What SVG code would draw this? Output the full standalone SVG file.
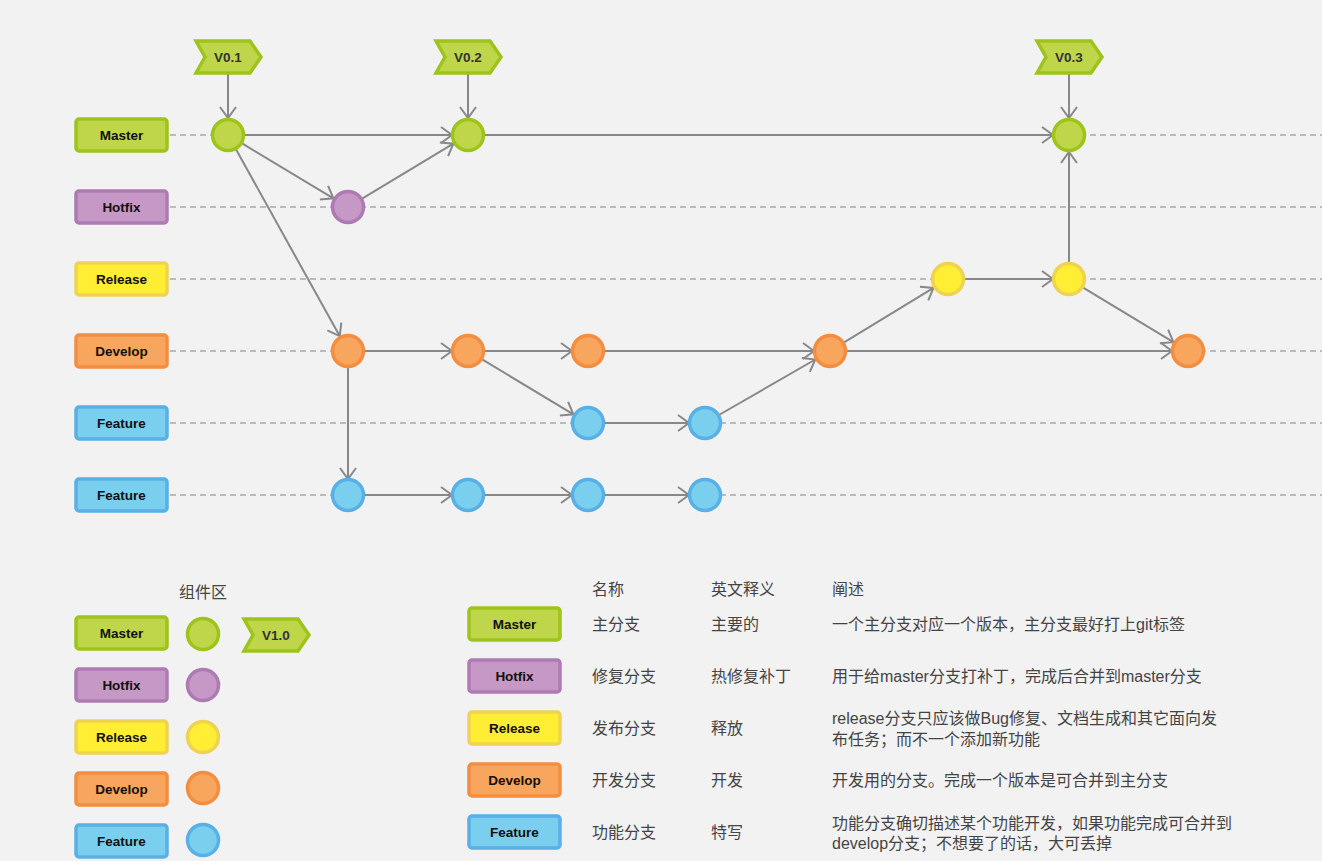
<svg xmlns="http://www.w3.org/2000/svg" width="1322" height="861" viewBox="0 0 1322 861">
<defs>
<style>
.bg{fill:#f2f2f2}
.lane{stroke:#bbbbbb;stroke-width:2;stroke-dasharray:6 4;fill:none}
.conn{stroke:#888888;stroke-width:2;fill:none;marker-end:url(#arr)}
.lbl{font-family:"Liberation Sans","Noto Sans",Arial,sans-serif;font-weight:bold;font-size:13.5px;fill:#111;text-anchor:middle}
.tagt{font-family:"Liberation Sans","Noto Sans",Arial,sans-serif;font-weight:bold;font-size:13.5px;fill:#333;text-anchor:middle}
.cn{font-family:"Liberation Sans","Noto Sans CJK SC",sans-serif;font-size:16px;fill:#444}
.m{fill:#bfd64b;stroke:#9dc41a;stroke-width:3.5}
.h{fill:#c598c5;stroke:#ae7ab4;stroke-width:3.5}
.r{fill:#ffee33;stroke:#eed352;stroke-width:3.5}
.d{fill:#f8a55e;stroke:#f38d40;stroke-width:3.5}
.f{fill:#7acfee;stroke:#58b0e6;stroke-width:3.5}
</style>
<marker id="arr" markerUnits="userSpaceOnUse" markerWidth="16" markerHeight="20" refX="12" refY="9" orient="auto">
<path d="M1,1 L12,9 L1,17" fill="none" stroke="#888888" stroke-width="2"/>
</marker>
<symbol id="tag" overflow="visible">
<polygon points="-32,-16 22,-16 33,0 22,16 -32,16 -23,0"/>
</symbol>
</defs>
<rect class="bg" x="0" y="0" width="1322" height="861"/>

<g id="lanes">
<line class="lane" x1="170" y1="135" x2="1322" y2="135"/>
<line class="lane" x1="170" y1="207" x2="1322" y2="207"/>
<line class="lane" x1="170" y1="279" x2="1322" y2="279"/>
<line class="lane" x1="170" y1="351" x2="1322" y2="351"/>
<line class="lane" x1="170" y1="423" x2="1322" y2="423"/>
<line class="lane" x1="170" y1="495" x2="1322" y2="495"/>
</g>

<g id="lane-labels">
<g id="lbl-master"><rect class="m" x="76" y="119" width="91" height="32" rx="3"/><text class="lbl" x="121.5" y="140">Master</text></g>
<g id="lbl-hotfix"><rect class="h" x="76" y="191" width="91" height="32" rx="3"/><text class="lbl" x="121.5" y="212">Hotfix</text></g>
<g id="lbl-release"><rect class="r" x="76" y="263" width="91" height="32" rx="3"/><text class="lbl" x="121.5" y="284">Release</text></g>
<g id="lbl-develop"><rect class="d" x="76" y="335" width="91" height="32" rx="3"/><text class="lbl" x="121.5" y="356">Develop</text></g>
<g id="lbl-feature1"><rect class="f" x="76" y="407" width="91" height="32" rx="3"/><text class="lbl" x="121.5" y="428">Feature</text></g>
<g id="lbl-feature2"><rect class="f" x="76" y="479" width="91" height="32" rx="3"/><text class="lbl" x="121.5" y="500">Feature</text></g>
</g>

<g id="connectors">
<line class="conn" x1="228" y1="74" x2="228" y2="118"/>
<line class="conn" x1="468" y1="74" x2="468" y2="118"/>
<line class="conn" x1="1069" y1="74" x2="1069" y2="118"/>
<line class="conn" x1="244" y1="135" x2="452" y2="135"/>
<line class="conn" x1="241.7" y1="143.2" x2="333.4" y2="198.3"/>
<line class="conn" x1="235.8" y1="149" x2="339.7" y2="336.1"/>
<line class="conn" x1="361.7" y1="198.8" x2="453.4" y2="143.7"/>
<line class="conn" x1="484" y1="135" x2="1053" y2="135"/>
<line class="conn" x1="1069" y1="263" x2="1069" y2="152"/>
<line class="conn" x1="964" y1="279" x2="1053" y2="279"/>
<line class="conn" x1="1082.7" y1="287.3" x2="1173.4" y2="342.2"/>
<line class="conn" x1="364" y1="351" x2="452" y2="351"/>
<line class="conn" x1="484" y1="351" x2="572" y2="351"/>
<line class="conn" x1="604" y1="351" x2="814" y2="351"/>
<line class="conn" x1="846" y1="351" x2="1172" y2="351"/>
<line class="conn" x1="843.7" y1="342.7" x2="933.5" y2="287.9"/>
<line class="conn" x1="481.7" y1="359.2" x2="573.4" y2="414.3"/>
<line class="conn" x1="604" y1="423" x2="689" y2="423"/>
<line class="conn" x1="718.9" y1="415" x2="815.3" y2="359.5"/>
<line class="conn" x1="348" y1="367" x2="348" y2="479"/>
<line class="conn" x1="364" y1="495" x2="452" y2="495"/>
<line class="conn" x1="484" y1="495" x2="572" y2="495"/>
<line class="conn" x1="604" y1="495" x2="689" y2="495"/>
</g>

<g id="tags">
<g id="tag-v01"><use href="#tag" x="228" y="57" class="m"/><text class="tagt" x="228" y="62">V0.1</text></g>
<g id="tag-v02"><use href="#tag" x="468" y="57" class="m"/><text class="tagt" x="468" y="62">V0.2</text></g>
<g id="tag-v03"><use href="#tag" x="1069" y="57" class="m"/><text class="tagt" x="1069" y="62">V0.3</text></g>
</g>

<g id="commits">
<circle id="m1" class="m" cx="228" cy="135" r="15.5"/>
<circle id="m2" class="m" cx="468" cy="135" r="15.5"/>
<circle id="m3" class="m" cx="1069" cy="135" r="15.5"/>
<circle id="h1" class="h" cx="348" cy="207" r="15.5"/>
<circle id="r1" class="r" cx="948" cy="279" r="15.5"/>
<circle id="r2" class="r" cx="1069" cy="279" r="15.5"/>
<circle id="d1" class="d" cx="348" cy="351" r="15.5"/>
<circle id="d2" class="d" cx="468" cy="351" r="15.5"/>
<circle id="d3" class="d" cx="588" cy="351" r="15.5"/>
<circle id="d4" class="d" cx="830" cy="351" r="15.5"/>
<circle id="d5" class="d" cx="1188" cy="351" r="15.5"/>
<circle id="fa1" class="f" cx="588" cy="423" r="15.5"/>
<circle id="fa2" class="f" cx="705" cy="423" r="15.5"/>
<circle id="fb1" class="f" cx="348" cy="495" r="15.5"/>
<circle id="fb2" class="f" cx="468" cy="495" r="15.5"/>
<circle id="fb3" class="f" cx="588" cy="495" r="15.5"/>
<circle id="fb4" class="f" cx="705" cy="495" r="15.5"/>
</g>

<g id="legend">
<text class="cn" x="179" y="598">组件区</text>
<g id="leg-master"><rect class="m" x="76" y="617" width="91" height="32" rx="3"/><text class="lbl" x="121.5" y="638">Master</text><circle class="m" cx="203" cy="634" r="15.5"/></g>
<g id="leg-v10"><use href="#tag" x="276" y="635" class="m"/><text class="tagt" x="276" y="640">V1.0</text></g>
<g id="leg-hotfix"><rect class="h" x="76" y="669" width="91" height="32" rx="3"/><text class="lbl" x="121.5" y="690">Hotfix</text><circle class="h" cx="203" cy="685" r="15.5"/></g>
<g id="leg-release"><rect class="r" x="76" y="721" width="91" height="32" rx="3"/><text class="lbl" x="121.5" y="742">Release</text><circle class="r" cx="203" cy="737" r="15.5"/></g>
<g id="leg-develop"><rect class="d" x="76" y="773" width="91" height="32" rx="3"/><text class="lbl" x="121.5" y="794">Develop</text><circle class="d" cx="203" cy="788" r="15.5"/></g>
<g id="leg-feature"><rect class="f" x="76" y="825" width="91" height="32" rx="3"/><text class="lbl" x="121.5" y="846">Feature</text><circle class="f" cx="203" cy="840" r="15.5"/></g>
</g>

<g id="table">
<text class="cn" x="592" y="595">名称</text>
<text class="cn" x="711" y="595">英文释义</text>
<text class="cn" x="832" y="595">阐述</text>

<g id="row-master"><rect class="m" x="469" y="608" width="91" height="32" rx="3"/><text class="lbl" x="514.5" y="629">Master</text>
<text class="cn" x="592" y="630">主分支</text><text class="cn" x="711" y="630">主要的</text><text class="cn" x="832" y="630">一个主分支对应一个版本，主分支最好打上git标签</text></g>

<g id="row-hotfix"><rect class="h" x="469" y="660" width="91" height="32" rx="3"/><text class="lbl" x="514.5" y="681">Hotfix</text>
<text class="cn" x="592" y="682">修复分支</text><text class="cn" x="711" y="682">热修复补丁</text><text class="cn" x="832" y="682">用于给master分支打补丁，完成后合并到master分支</text></g>

<g id="row-release"><rect class="r" x="469" y="712" width="91" height="32" rx="3"/><text class="lbl" x="514.5" y="733">Release</text>
<text class="cn" x="592" y="734">发布分支</text><text class="cn" x="711" y="734">释放</text><text class="cn" x="832" y="724">release分支只应该做Bug修复、文档生成和其它面向发</text><text class="cn" x="832" y="745">布任务；而不一个添加新功能</text></g>

<g id="row-develop"><rect class="d" x="469" y="764" width="91" height="32" rx="3"/><text class="lbl" x="514.5" y="785">Develop</text>
<text class="cn" x="592" y="786">开发分支</text><text class="cn" x="711" y="786">开发</text><text class="cn" x="832" y="786">开发用的分支。完成一个版本是可合并到主分支</text></g>

<g id="row-feature"><rect class="f" x="469" y="816" width="91" height="32" rx="3"/><text class="lbl" x="514.5" y="837">Feature</text>
<text class="cn" x="592" y="838">功能分支</text><text class="cn" x="711" y="838">特写</text><text class="cn" x="832" y="829">功能分支确切描述某个功能开发，如果功能完成可合并到</text><text class="cn" x="832" y="849">develop分支；不想要了的话，大可丢掉</text></g>
</g>
</svg>
